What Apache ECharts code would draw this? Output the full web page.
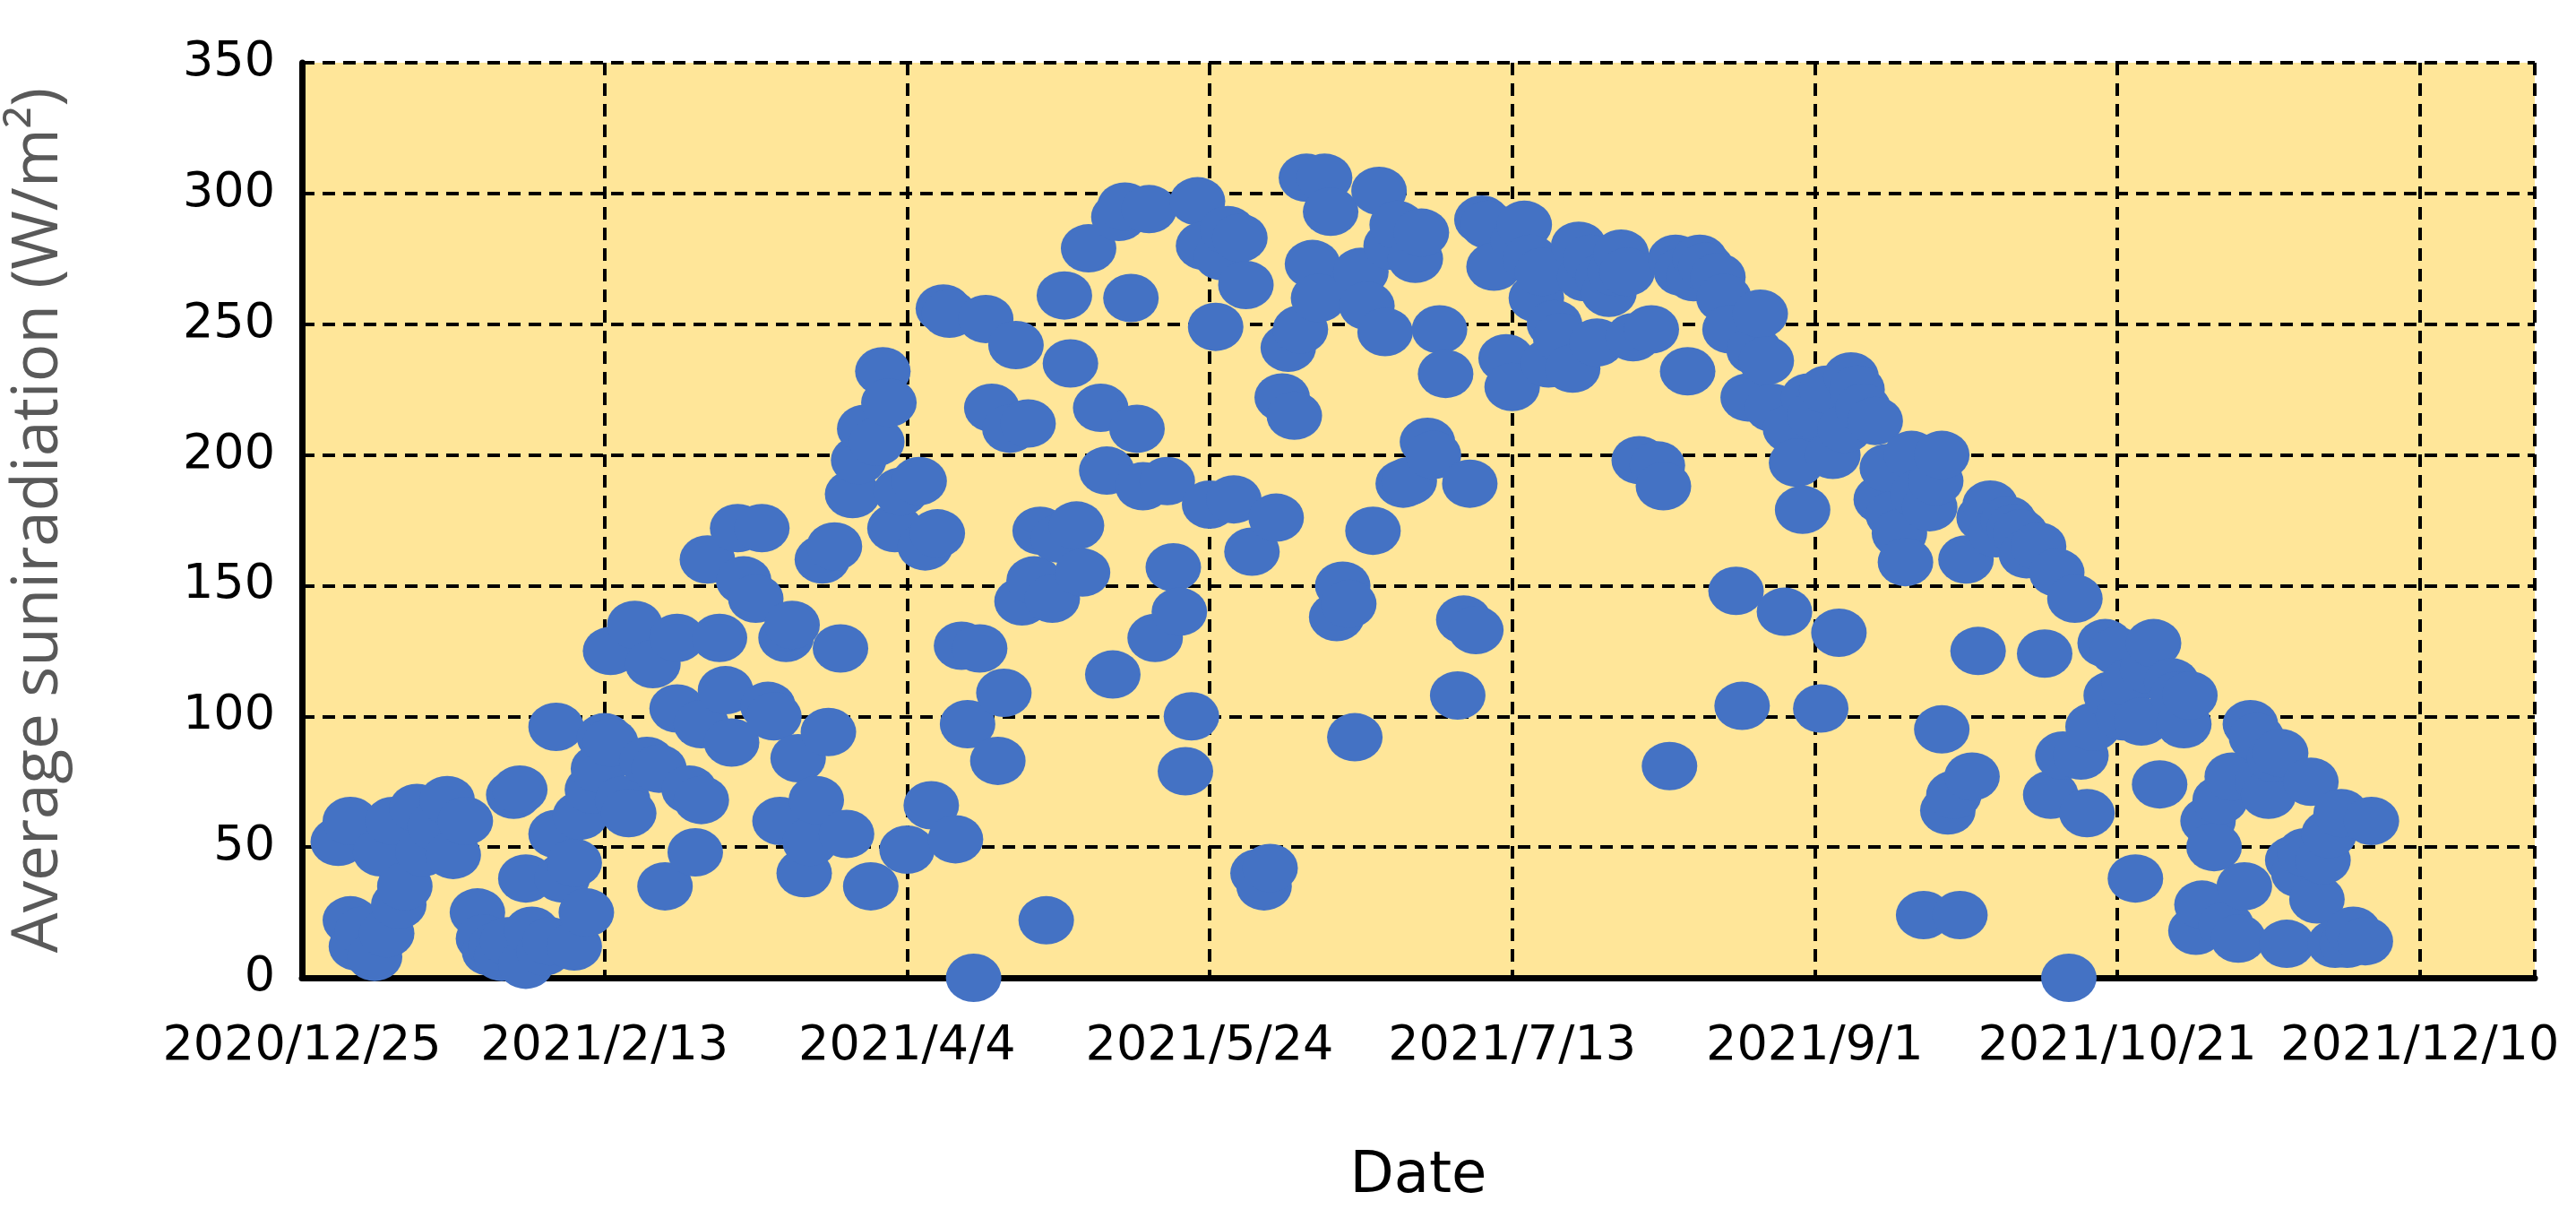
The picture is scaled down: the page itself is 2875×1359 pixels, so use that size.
<!DOCTYPE html>
<html>
<head>
<meta charset="utf-8">
<script src="https://cdn.jsdelivr.net/npm/echarts@6/dist/echarts.min.js"></script>
<style>html,body{margin:0;padding:0;background:#fff}#main{width:2875px;height:1359px}</style>
</head>
<body>
<div id="main"></div>
<script>
// days since 2020/12/25
const days = [6,8,8,9,10,12,13,14,15,16,17,19,20,22,24,25,27,29,30,31,32,33,34,35,36,37,37,38,40,41,42,42,43,45,45,46,47,48,49,50,51,51,53,54,55,57,58,59,60,62,62,64,65,66,66,67,69,70,71,72,73,75,76,77,78,79,80,81,82,83,84,85,86,87,88,89,90,91,92,93,94,95,96,97,98,99,100,102,103,104,105,106,107,108,109,110,111,112,113,114,115,116,117,118,119,120,121,122,123,124,125,126,127,128,129,130,132,133,134,135,136,137,138,139,140,141,143,144,145,146,147,148,149,150,151,152,153,154,155,156,157,158,159,160,161,162,163,164,165,166,167,168,169,170,171,172,173,174,175,176,177,178,179,180,181,182,183,184,185,186,187,188,189,191,192,193,194,195,196,197,199,200,201,202,203,204,205,206,207,208,210,211,212,213,214,215,216,217,218,219,220,221,223,224,225,226,227,228,229,230,231,232,234,235,236,237,238,239,240,241,242,243,245,246,247,248,249,250,251,252,253,254,255,256,257,258,260,261,262,263,264,265,266,267,268,269,270,271,271,272,273,274,275,276,277,278,279,280,282,283,284,285,287,288,289,290,291,292,293,294,295,296,298,299,300,301,302,303,304,305,306,307,309,310,311,312,313,314,315,316,317,318,319,320,321,322,323,324,325,326,327,328,329,330,331,332,333,334,335,336,337,338,339,341,342];
const radiation = [52,60,22,12,18,8,48,17,60,28,35,65,48,58,68,47,60,25,15,10,12,8,14,70,72,38,5,18,10,14,96,55,38,44,12,62,25,72,80,92,90,125,68,63,135,83,120,80,35,103,130,72,48,68,97,160,130,110,90,172,152,145,172,104,100,60,130,135,84,40,52,68,160,94,165,126,55,185,198,210,35,205,232,220,172,186,49,190,165,66,170,256,254,53,127,97,0,126,252,218,83,109,210,242,144,212,152,171,22,145,168,261,235,173,155,279,218,194,116,291,295,260,210,188,294,130,190,157,140,79,100,297,280,181,249,276,286,183,283,265,163,40,35,42,176,222,241,215,248,306,273,260,306,293,138,150,143,92,270,257,171,301,247,280,288,189,190,275,285,205,200,248,231,108,137,189,133,290,288,272,237,226,282,288,275,260,270,235,250,245,233,280,268,275,243,268,262,270,277,270,245,198,248,196,188,81,275,270,232,268,275,272,268,260,248,148,104,222,240,254,236,218,140,210,197,179,222,215,103,225,200,132,210,230,225,218,213,183,195,177,170,159,200,185,24,180,190,200,95,64,70,24,160,77,125,176,181,170,175,172,170,162,165,124,70,155,85,0,145,85,63,96,128,108,125,100,113,38,98,118,128,74,113,108,97,108,18,28,60,50,68,20,77,15,35,97,92,75,70,84,86,13,45,40,48,75,30,45,55,13,63,13,18,14,60];
const yTicks = [0, 50, 100, 150, 200, 250, 300, 350];

const start = new Date(2020, 11, 25);
function dayLabel(d) {
    const t = new Date(start.getTime() + d * 86400000);
    return t.getFullYear() + '/' + (t.getMonth() + 1) + '/' + t.getDate();
}

const points = days.map((d, i) => [d, radiation[i]]);
const chart = echarts.init(document.getElementById('main'));
chart.setOption({
    animation: false,
    grid: {
        left: 337, top: 70, right: 46, bottom: 268,
        show: true, backgroundColor: '#FFE699', borderWidth: 0
    },
    xAxis: {
        type: 'value', min: 0, max: 369, interval: 50,
        name: 'Date', nameLocation: 'middle', nameGap: 190,
        nameTextStyle: { fontFamily: 'DejaVu Sans', fontSize: 64, color: '#000' },
        axisLine: { lineStyle: { color: '#000', width: 7 } },
        axisTick: { show: false },
        axisLabel: {
            formatter: dayLabel, showMaxLabel: false, margin: 50,
            fontFamily: 'DejaVu Sans', fontSize: 54, color: '#000'
        },
        splitLine: { lineStyle: { color: '#000', width: 4, type: [14, 9] } }
    },
    yAxis: {
        type: 'value', min: yTicks[0], max: yTicks[yTicks.length - 1], interval: 50,
        name: 'Average suniradiation (W/m²)', nameLocation: 'middle', nameGap: 258,
        nameTextStyle: { fontFamily: 'Liberation Sans Narrow, Open Sans', fontSize: 71, color: '#595959' },
        axisLine: { show: true, lineStyle: { color: '#000', width: 7 } },
        axisTick: { show: false },
        axisLabel: { margin: 30, fontFamily: 'DejaVu Sans', fontSize: 54, color: '#000' },
        splitLine: { lineStyle: { color: '#000', width: 4, type: [14, 9] } }
    },
    series: [{
        type: 'scatter',
        data: points,
        symbol: 'circle',
        symbolSize: [62, 54],
        itemStyle: { color: '#4472C4', opacity: 1 }
    }]
});
</script>
</body>
</html>
